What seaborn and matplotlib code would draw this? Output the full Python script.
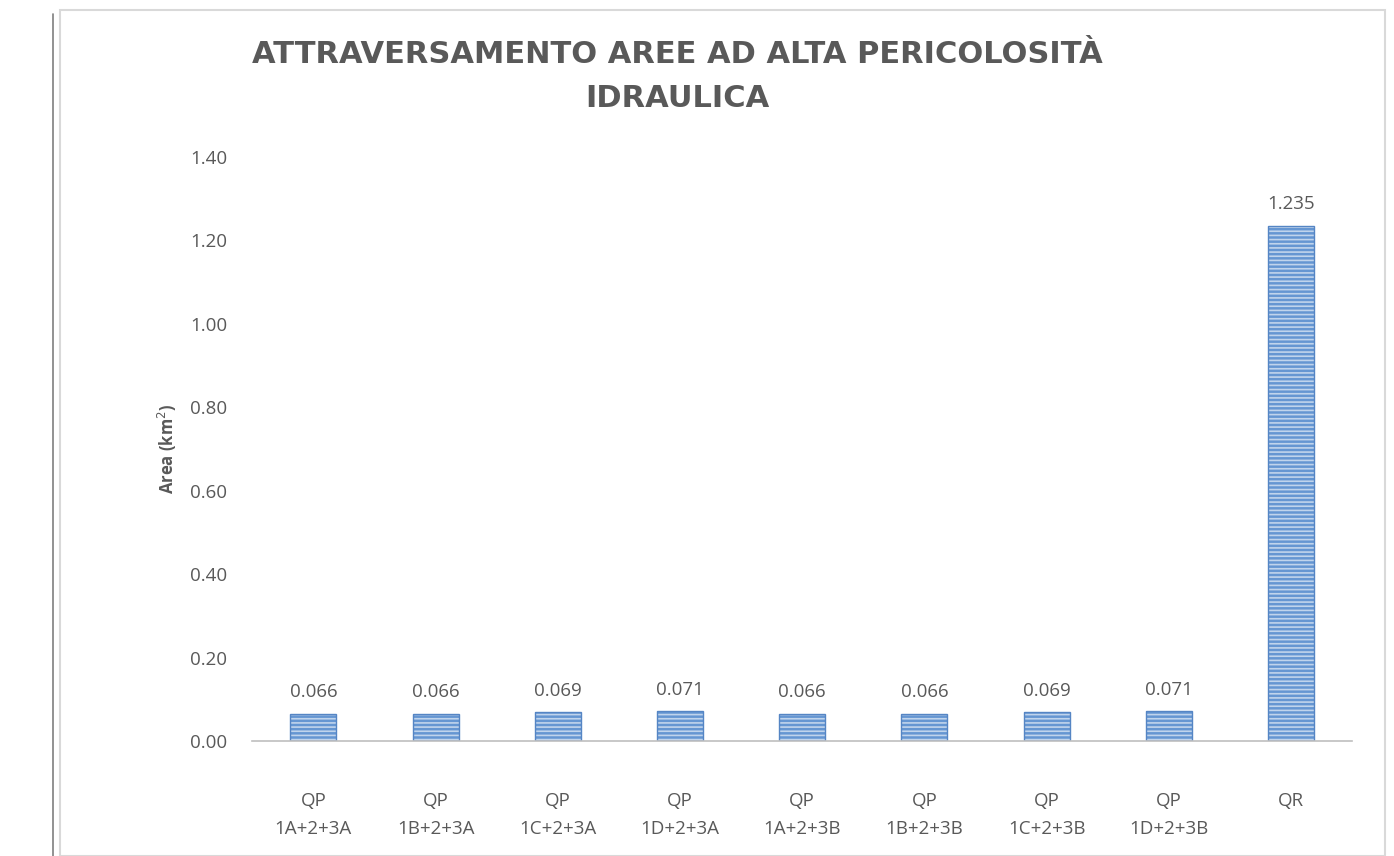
import matplotlib
matplotlib.use("Agg")
import matplotlib.pyplot as plt
import seaborn as sns
import pandas as pd
from matplotlib.patches import Rectangle
from matplotlib.lines import Line2D

categories = ["QP\n1A+2+3A", "QP\n1B+2+3A", "QP\n1C+2+3A", "QP\n1D+2+3A",
              "QP\n1A+2+3B", "QP\n1B+2+3B", "QP\n1C+2+3B", "QP\n1D+2+3B", "QR"]
values = [0.066, 0.066, 0.069, 0.071, 0.066, 0.066, 0.069, 0.071, 1.235]
value_labels = ["0.066", "0.066", "0.069", "0.071", "0.066", "0.066", "0.069", "0.071", "1.235"]
yticks = [0.0, 0.2, 0.4, 0.6, 0.8, 1.0, 1.2, 1.4]

df = pd.DataFrame({"cat": categories, "area": values})

sns.set_style("white")
plt.rcParams["font.family"] = ["Open Sans", "DejaVu Sans"]
plt.rcParams["hatch.linewidth"] = 1.2

txt = "#595959"
fig = plt.figure(figsize=(13.94, 8.56), dpi=100)
ax = fig.add_axes([0.181, 0.1343, 0.789, 0.6823])

sns.barplot(data=df, x="cat", y="area", ax=ax, color="#6596d2", width=0.377,
            saturation=1)
for p in ax.patches:
    p.set_facecolor("#6596d2")
    p.set_hatch("----")
    p.set_edgecolor("#c0d4ec")
    p.set_linewidth(0)
# outline bars
for p in list(ax.patches):
    x0, w, h = p.get_x(), p.get_width(), p.get_height()
    ax.add_patch(Rectangle((x0, 0), w, h, fill=False, edgecolor="#5585c4", linewidth=1.0))

for i, (v, lab) in enumerate(zip(values, value_labels)):
    ax.annotate(lab, (i, v), xytext=(0, 9), textcoords="offset points",
                ha="center", va="bottom", fontsize=13.5, color=txt)

ax.set_xlim(-0.5, 8.5)
ax.set_ylim(0, 1.4)
ax.set_yticks(yticks)
ax.set_yticklabels([f"{t:.2f}" for t in yticks])
ax.tick_params(axis="y", length=0, pad=18, labelsize=13.5, labelcolor=txt)
ax.tick_params(axis="x", length=0, pad=37, labelsize=13.5, labelcolor=txt)
for lab in ax.get_xticklabels():
    lab.set_linespacing(1.7)
ax.set_xlabel("")
ax.set_ylabel("Area (km$^2$)", fontsize=12, fontweight="bold", color=txt, labelpad=8)

for s in ["top", "right", "left"]:
    ax.spines[s].set_visible(False)
ax.spines["bottom"].set_color("#bfbfbf")
ax.spines["bottom"].set_linewidth(1.2)
ax.grid(False)

fig.text(0.486, 0.911, "ATTRAVERSAMENTO AREE AD ALTA PERICOLOSITÀ\nIDRAULICA",
         ha="center", va="center", fontsize=22, fontweight="bold", color=txt,
         linespacing=1.65, family=["DejaVu Sans"])

# chart frame
fig.add_artist(Rectangle((60 / 1394, 0), (1385 - 60) / 1394, 1 - 10 / 856,
                         transform=fig.transFigure, fill=False,
                         edgecolor="#d9d9d9", linewidth=1.5))
fig.add_artist(Line2D([53 / 1394, 53 / 1394], [0, 1 - 14 / 856],
                      transform=fig.transFigure, color="#7f7f7f", linewidth=1.2))

fig.savefig("out.png", dpi=100)
